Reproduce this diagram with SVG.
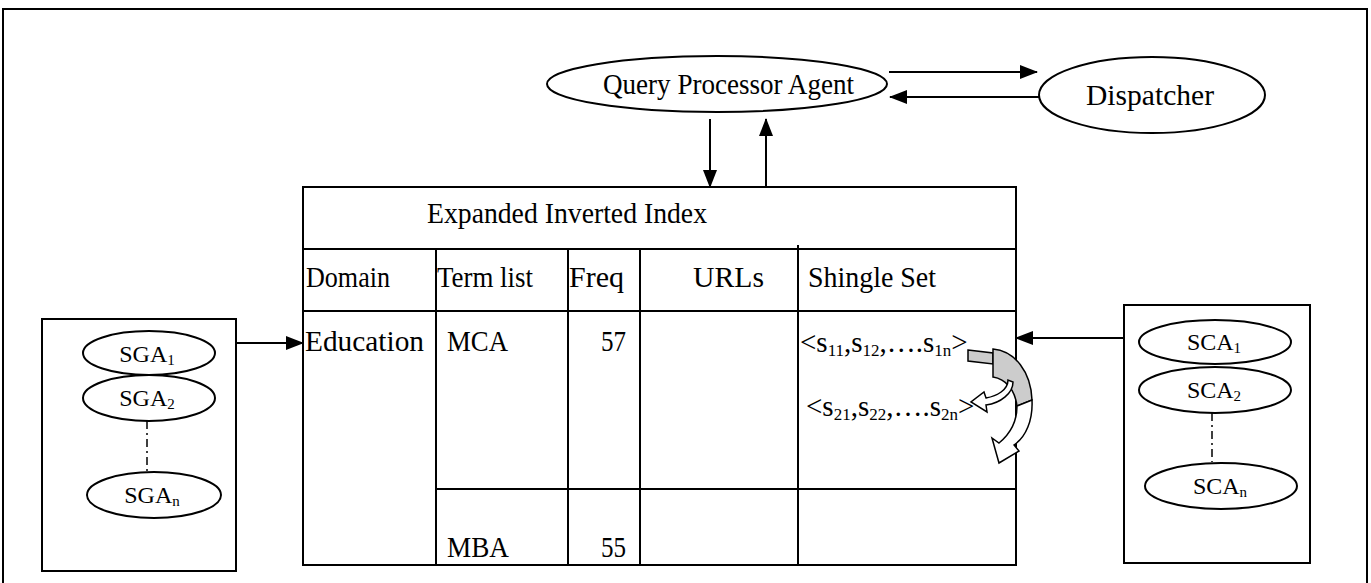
<svg xmlns="http://www.w3.org/2000/svg" width="1371" height="583" viewBox="0 0 1371 583">
<defs>
<style>
.t{font-family:"Liberation Serif","Times New Roman",serif;font-size:29px;fill:#000}
.s{font-family:"Liberation Serif","Times New Roman",serif;font-size:24px;fill:#000}
.sub{font-size:15px}
.sub2{font-size:17px}
.ln{stroke:#000;stroke-width:2;fill:none}
.nd{stroke:#000;stroke-width:2;fill:#fff}
.dd{stroke:#000;stroke-width:1.5;stroke-dasharray:8 4 2 4;fill:none}
</style>
<marker id="ahb" markerWidth="18" markerHeight="14" refX="17" refY="7" orient="auto" markerUnits="userSpaceOnUse" viewBox="0 0 18 14">
<path d="M0,0 L18,7 L0,14 Z" fill="#000"/>
</marker>
</defs>
<rect x="0" y="0" width="1371" height="583" fill="#fff"/>
<rect x="3" y="9" width="1364" height="590" class="ln"/>

<g id="qpa">
<ellipse cx="717" cy="84" rx="170" ry="28" class="nd"/>
<text class="t" x="603" y="94" textLength="251" lengthAdjust="spacingAndGlyphs">Query Processor Agent</text>
</g>
<g id="dispatcher">
<ellipse cx="1152" cy="95" rx="113" ry="38" class="nd"/>
<text class="t" x="1086" y="105" textLength="128" lengthAdjust="spacingAndGlyphs">Dispatcher</text>
</g>

<g id="index">
<rect x="303" y="187" width="713" height="378" class="ln"/>
<line x1="303" y1="249" x2="1016" y2="249" class="ln"/>
<line x1="303" y1="311" x2="1016" y2="311" class="ln"/>
<line x1="436" y1="489" x2="1016" y2="489" class="ln"/>
<line x1="436" y1="249" x2="436" y2="565" class="ln"/>
<line x1="568" y1="249" x2="568" y2="565" class="ln"/>
<line x1="640" y1="249" x2="640" y2="565" class="ln"/>
<line x1="798" y1="245" x2="798" y2="565" class="ln"/>
<text class="t" x="427" y="223" textLength="280" lengthAdjust="spacingAndGlyphs">Expanded Inverted Index</text>
<text class="t" x="306" y="287" textLength="84" lengthAdjust="spacingAndGlyphs">Domain</text>
<text class="t" x="437" y="287" textLength="96" lengthAdjust="spacingAndGlyphs">Term list</text>
<text class="t" x="569" y="287" textLength="55" lengthAdjust="spacingAndGlyphs">Freq</text>
<text class="t" x="693" y="287" textLength="71" lengthAdjust="spacingAndGlyphs">URLs</text>
<text class="t" x="808" y="287" textLength="128" lengthAdjust="spacingAndGlyphs">Shingle Set</text>
<text class="t" x="305" y="351" textLength="119" lengthAdjust="spacingAndGlyphs">Education</text>
<text class="t" x="447" y="351" textLength="61" lengthAdjust="spacingAndGlyphs">MCA</text>
<text class="t" x="601" y="351" textLength="25" lengthAdjust="spacingAndGlyphs">57</text>
<text class="t" x="800" y="352">&lt;s<tspan class="sub2" dy="4">11</tspan><tspan dy="-4">,s</tspan><tspan class="sub2" dy="4">12</tspan><tspan dy="-4">,….s</tspan><tspan class="sub2" dy="4">1n</tspan><tspan dy="-4">&gt;</tspan></text>
<text class="t" x="806" y="416">&lt;s<tspan class="sub2" dy="4">21</tspan><tspan dy="-4">,s</tspan><tspan class="sub2" dy="4">22</tspan><tspan dy="-4">,….s</tspan><tspan class="sub2" dy="4">2n</tspan><tspan dy="-4">&gt;</tspan></text>
<text class="t" x="447" y="557" textLength="62" lengthAdjust="spacingAndGlyphs">MBA</text>
<text class="t" x="601" y="557" textLength="25" lengthAdjust="spacingAndGlyphs">55</text>
</g>

<g id="curved-arrows">
<path d="M968,350 L993,353 L993,364 L968,361 Z" fill="#ccc" stroke="#000" stroke-width="1.5"/>
<path d="M993,349 C1015,351 1031,372 1032,400 L1017,406 C1015,390 1006,379 993,377 Z" fill="#ccc" stroke="#000" stroke-width="1.5"/>
<path d="M1032,400 C1033,420 1026,437 1014,445 L1019,451 L999,463 L992,438 L999,443 C1010,434 1017,421 1017,406 Z" fill="#fff" stroke="#000" stroke-width="1.5"/>
<path d="M1008,380 C1008,390 997,396 986,398 L984,392 L971,402 L987,412 L986,405 C1001,403 1013,393 1013,382 Z" fill="#fff" stroke="#000" stroke-width="1.5"/>
</g>

<g id="sga">
<rect x="42" y="319" width="194" height="252" class="ln"/>
<ellipse cx="149" cy="353" rx="66" ry="22" class="nd"/>
<ellipse cx="149" cy="398" rx="66" ry="23" class="nd"/>
<line x1="147" y1="421" x2="147" y2="472" class="dd"/>
<ellipse cx="154" cy="495" rx="67" ry="23" class="nd"/>
<text class="s" x="147" y="362" text-anchor="middle">SGA<tspan class="sub" dy="3">1</tspan></text>
<text class="s" x="147" y="406" text-anchor="middle">SGA<tspan class="sub" dy="3">2</tspan></text>
<text class="s" x="152" y="503" text-anchor="middle">SGA<tspan class="sub" dy="3">n</tspan></text>
</g>

<g id="sca">
<rect x="1124" y="305" width="186" height="258" class="ln"/>
<ellipse cx="1215" cy="342" rx="76" ry="22" class="nd"/>
<ellipse cx="1215" cy="390" rx="76" ry="23" class="nd"/>
<line x1="1212" y1="413" x2="1212" y2="462" class="dd"/>
<ellipse cx="1221" cy="486" rx="76" ry="23" class="nd"/>
<text class="s" x="1214" y="350" text-anchor="middle">SCA<tspan class="sub" dy="3">1</tspan></text>
<text class="s" x="1214" y="398" text-anchor="middle">SCA<tspan class="sub" dy="3">2</tspan></text>
<text class="s" x="1220" y="494" text-anchor="middle">SCA<tspan class="sub" dy="3">n</tspan></text>
</g>

<g id="connectors">
<line x1="889" y1="72" x2="1037" y2="72" stroke="#000" stroke-width="2" marker-end="url(#ahb)"/>
<line x1="1040" y1="97" x2="890" y2="97" stroke="#000" stroke-width="2" marker-end="url(#ahb)"/>
<line x1="710" y1="119" x2="710" y2="187" stroke="#000" stroke-width="2" marker-end="url(#ahb)"/>
<line x1="766" y1="187" x2="766" y2="119" stroke="#000" stroke-width="2" marker-end="url(#ahb)"/>
<line x1="236" y1="343" x2="303" y2="343" stroke="#000" stroke-width="2" marker-end="url(#ahb)"/>
<line x1="1124" y1="338" x2="1016" y2="338" stroke="#000" stroke-width="2" marker-end="url(#ahb)"/>
</g>
</svg>
